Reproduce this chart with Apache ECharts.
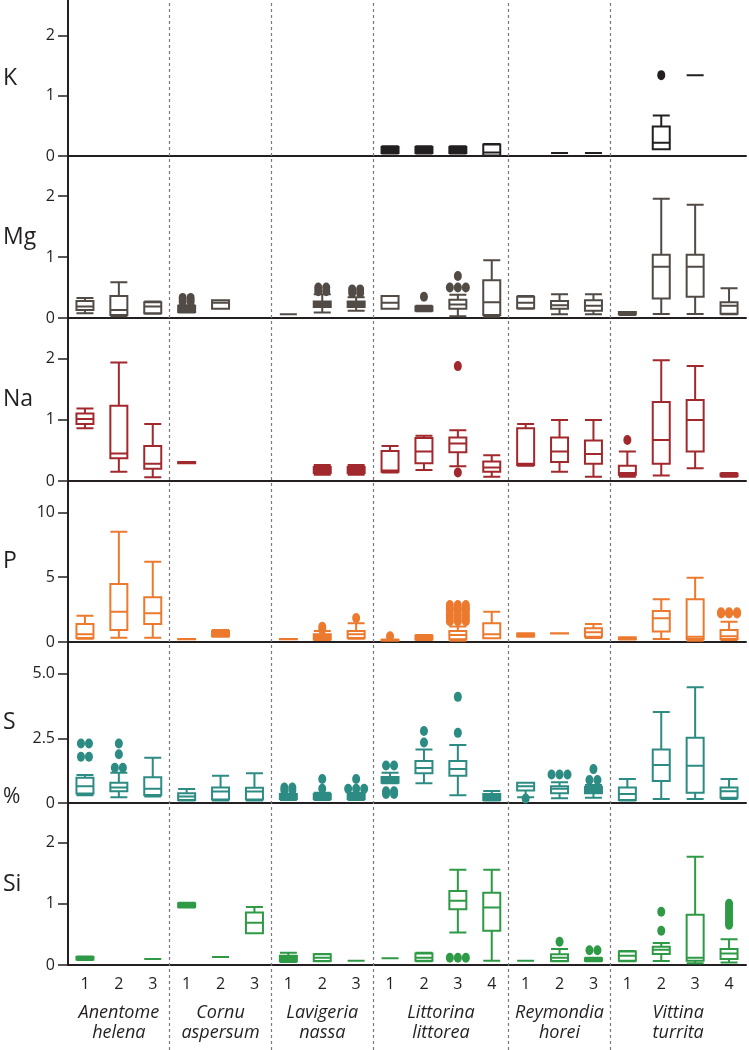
<!DOCTYPE html>
<html><head><meta charset="utf-8">
<script src="https://cdn.jsdelivr.net/npm/echarts@6/dist/echarts.min.js"></script>
<style>html,body{margin:0;padding:0;background:#fff}#c{width:749px;height:1050px}</style>
</head><body><div id="c"></div>
<script>
// ---------------- data ----------------
const species = ['Anentome helena','Cornu aspersum','Lavigeria nassa','Littorina littorea','Reymondia horei','Vittina turrita'];
const groupSizes = [3,3,3,4,3,4];
const elements = ['K','Mg','Na','P','S','Si'];
const yTicks = {K:[0,1,2], Mg:[0,1,2], Na:[0,1,2], P:[0,5,10], S:[0,2.5,5], Si:[0,1,2]};

// boxes: [min, Q1, median, Q3, max] per sample (20 samples), null = no data
const K = [null,null,null, null,null,null, null,null,null,
  [0.04,0.05,0.1,0.15,0.16],[0.04,0.05,0.09,0.15,0.16],[0.04,0.05,0.1,0.15,0.16],[0,0.01,0.06,0.19,0.2],
  null,[0.05,0.05,0.05,0.05,0.05],[0.05,0.05,0.05,0.05,0.05],
  null,[0.11,0.11,0.22,0.49,0.67],[1.34,1.34,1.34,1.34,1.34],null];
const K_out = [[],[],[],[],[],[],[],[],[],[],[],[],[],[],[],[],[],[1.34],[],[]];

const Mg = [[0.08,0.13,0.19,0.28,0.33],[0.03,0.05,0.13,0.36,0.585],[0.07,0.08,0.19,0.26,0.27],
  [0.09,0.1,0.15,0.2,0.21],[0.15,0.15,0.25,0.29,0.29],null,
  [0.06,0.06,0.06,0.06,0.06],[0.09,0.18,0.22,0.27,0.39],[0.12,0.18,0.22,0.27,0.34],
  [0.15,0.15,0.25,0.36,0.36],[0.11,0.12,0.15,0.19,0.2],[0.03,0.15,0.22,0.3,0.38],[0.02,0.05,0.26,0.62,0.95],
  [0.15,0.16,0.25,0.35,0.36],[0.06,0.15,0.21,0.28,0.39],[0.06,0.12,0.2,0.29,0.39],
  [0.05,0.06,0.08,0.1,0.1],[0.065,0.32,0.84,1.04,1.96],[0.065,0.35,0.84,1.04,1.86],[0.06,0.07,0.2,0.26,0.49]];
const Mg_out = [[],[],[],[0.33,0.33,0.27,0.27],[],[],[],[0.5,0.5,0.44,0.44],[0.47,0.47,0.41,0.41],
  [],[0.35],[0.69,0.5,0.5,0.5],[],[],[],[],[],[],[],[]];

const Na = [[0.86,0.93,1.01,1.1,1.185],[0.15,0.37,0.45,1.23,1.935],[0.06,0.2,0.28,0.57,0.93],
  [0.29,0.29,0.3,0.31,0.31],null,null,
  null,[0.1,0.13,0.18,0.23,0.26],[0.1,0.13,0.18,0.23,0.26],
  [0.14,0.15,0.17,0.49,0.57],[0.18,0.29,0.48,0.7,0.74],[0.24,0.47,0.61,0.71,0.83],[0.07,0.15,0.22,0.32,0.42],
  [0.25,0.26,0.28,0.86,0.93],[0.15,0.31,0.48,0.71,0.995],[0.07,0.28,0.44,0.66,0.995],
  [0.07,0.1,0.13,0.25,0.48],[0.09,0.28,0.67,1.29,1.97],[0.21,0.48,0.995,1.32,1.875],[0.07,0.08,0.1,0.12,0.13]];
const Na_out = [[],[],[],[],[],[],[],[],[],[],[],[1.875,0.14],[],[],[],[],[0.67],[],[],[]];

const P = [[0.25,0.3,0.6,1.39,2.03],[0.33,0.93,2.34,4.47,8.5],[0.33,1.39,2.21,3.45,6.19],
  [0.22,0.22,0.23,0.24,0.24],[0.41,0.45,0.6,0.85,0.93],null,
  [0.22,0.22,0.23,0.24,0.24],[0.15,0.2,0.4,0.6,0.85],[0.25,0.3,0.6,0.85,1.44],
  [0.1,0.12,0.15,0.18,0.2],[0.15,0.2,0.3,0.5,0.54],[0.1,0.21,0.54,0.85,1.2],[0.28,0.28,0.59,1.44,2.34],
  [0.4,0.42,0.55,0.65,0.67],[0.66,0.66,0.67,0.68,0.68],[0.3,0.41,0.75,1.06,1.39],
  [0.2,0.21,0.28,0.35,0.36],[0.23,0.8,1.83,2.39,3.29],[0.1,0.23,0.41,3.29,4.96],[0.15,0.23,0.45,0.93,1.57]];
const P_out = [[],[],[],[],[],[],[],[1.18,0.95],[1.85],[0.45],[],
  [2.85,2.85,2.85,2.6,2.6,2.6,2.4,2.4,2.4,2.1,2.1,2.1,1.85,1.85,1.85,1.6,1.6,1.6],
  [],[],[],[],[],[],[],[2.3,2.3,2.3,2.2,2.2,2.2]];

const S = [[0.3,0.37,0.65,0.98,1.08],[0.22,0.45,0.6,0.78,1.17],[0.25,0.31,0.55,0.99,1.75],
  [0.1,0.12,0.25,0.38,0.54],[0.1,0.14,0.44,0.6,1.05],[0.1,0.14,0.44,0.59,1.15],
  [0.12,0.15,0.25,0.35,0.35],[0.12,0.15,0.25,0.35,0.4],[0.12,0.15,0.25,0.35,0.4],
  [0.76,0.78,0.9,1.0,1.17],[0.76,1.15,1.35,1.62,2.07],[0.3,1.05,1.31,1.62,2.24],[0.1,0.12,0.25,0.35,0.46],
  [0.22,0.48,0.65,0.78,0.78],[0.18,0.38,0.55,0.65,0.8],[0.2,0.38,0.5,0.62,0.7],
  [0.1,0.12,0.35,0.6,0.93],[0.15,0.85,1.47,2.07,3.52],[0.15,0.4,1.44,2.52,4.47],[0.15,0.2,0.45,0.6,0.93]];
const S_out = [[2.3,2.3,1.79,1.79],[2.3,1.88,1.36,1.36],[],[],[],[],
  [0.6,0.6,0.48,0.48],[0.93,0.55],[0.93,0.55,0.55,0.55],
  [1.45,1.45,0.45,0.45,0.35,0.35],[2.78,2.34],[4.1,2.71],[],
  [0.17],[1.1,1.1,1.1],[1.31,0.89,0.89],[],[],[],[]];

const Si = [[0.08,0.09,0.11,0.13,0.14],null,[0.1,0.1,0.1,0.1,0.1],
  [0.94,0.95,0.98,1.01,1.02],[0.13,0.13,0.13,0.13,0.13],[0.52,0.52,0.69,0.86,0.95],
  [0.05,0.06,0.1,0.15,0.2],[0.06,0.065,0.12,0.175,0.18],[0.07,0.07,0.07,0.07,0.07],
  [0.11,0.11,0.11,0.11,0.11],[0.06,0.07,0.12,0.19,0.2],[0.53,0.91,1.05,1.21,1.56],[0.07,0.56,0.94,1.18,1.56],
  [0.07,0.07,0.07,0.07,0.07],[0.06,0.065,0.12,0.175,0.26],[0.06,0.07,0.09,0.11,0.12],
  [0.06,0.07,0.15,0.22,0.23],[0.065,0.18,0.25,0.3,0.36],[0.03,0.07,0.12,0.82,1.77],[0.04,0.1,0.19,0.26,0.42]];
const Si_out = [[],[],[],[],[],[],[],[],[],[],[],[0.12,0.12,0.12],[],[],[0.38],[0.24,0.24],[],
  [0.87,0.56],[],[1.0,0.95,0.9,0.85,0.8,0.75,0.7,0.66]];

// ---------------- layout / style ----------------
const boxes = {K, Mg, Na, P, S, Si};
const outs = {K:K_out, Mg:Mg_out, Na:Na_out, P:P_out, S:S_out, Si:Si_out};
const colors = {K:'#231f20', Mg:'#514a45', Na:'#a1282d', P:'#ec7a2e', S:'#2c8b82', Si:'#2f9a46'};
const tops = [0,156,318,481,642,803];
const heights = [156,162,163,161,161,162];
const ymax = [2.585,2.66,2.66,12.41,6.22,2.65];
const FONT = 'Open Sans';
const INK = '#231f20';
const FILL_BELOW_PX = 6.5;   // very short boxes read as solid in the original

const categories = [];
species.forEach((s,gi)=>{ for(let k=1;k<=groupSizes[gi];k++) categories.push(s+'|'+k); });
const bounds = []; let acc = 0;
groupSizes.forEach(n=>{ acc += n; bounds.push(acc); });
const separators = bounds.slice(0,-1);
const centers = groupSizes.map((n,i)=> bounds[i]-n/2);

const grid=[], xAxis=[], yAxis=[], series=[];
elements.forEach((el,i)=>{
  grid.push({left:68, right:3, top:tops[i], height:heights[i]});
  xAxis.push({gridIndex:i, type:'category', data:categories, boundaryGap:true,
    axisLine:{show:true, onZero:false, lineStyle:{color:INK, width:2}},
    axisTick:{show:false}, splitLine:{show:false},
    axisLabel:{show:i===5, interval:0, margin:11, fontSize:16, color:INK, fontFamily:FONT,
      formatter:v=>v.split('|')[1]}});
  yAxis.push({gridIndex:i, type:'value', min:0, max:ymax[i],
    axisLine:{show:true, onZero:false, lineStyle:{color:INK, width:2}},
    axisTick:{show:true, length:10, customValues:yTicks[el], lineStyle:{color:INK, width:1.5}},
    axisLabel:{customValues:yTicks[el], margin:13, fontSize:16, color:INK, fontFamily:FONT,
      formatter:v=> (el==='S' && v!==0) ? v.toFixed(1) : String(v)},
    splitLine:{show:false},
    name:el, nameLocation:'middle', nameRotate:0, nameGap:65,
    nameTextStyle:{fontSize:23, color:INK, fontFamily:FONT, align:'left', verticalAlign:'middle',
      padding: el==='Si' ? [0,0,28,0] : 0}});
  const pxPerUnit = heights[i]/ymax[i];
  const bdata = [];
  boxes[el].forEach((b,ci)=>{
    if(!b) return;
    const solid = (b[3]-b[1])*pxPerUnit < FILL_BELOW_PX;
    bdata.push({value:[ci].concat(b), itemStyle:{color: solid ? colors[el] : '#fff'}});
  });
  series.push({type:'boxplot', xAxisIndex:i, yAxisIndex:i, data:bdata,
    encode:{x:0, y:[1,2,3,4,5]}, boxWidth:[17,17], z:3,
    itemStyle:{color:'#fff', borderColor:colors[el], borderWidth:2}, silent:true});
  const sdata = [];
  outs[el].forEach((list,ci)=>{
    const counts = {}; list.forEach(v=>{counts[v]=(counts[v]||0)+1;});
    const seen = {};
    list.forEach(v=>{
      const n = counts[v]; const k = seen[v]||0; seen[v]=k+1;
      sdata.push({value:[ci,v], symbolOffset:[(k-(n-1)/2)*8,0]});
    });
  });
  series.push({type:'scatter', xAxisIndex:i, yAxisIndex:i, data:sdata, symbol:'circle',
    symbolSize:[8,10], z:4, itemStyle:{color:colors[el], opacity:1}, silent:true});
});
// species label axis under Si panel
xAxis.push({gridIndex:5, type:'value', min:0, max:groupSizes.reduce((a,b)=>a+b,0), position:'bottom',
  axisLine:{show:false}, axisTick:{show:false}, splitLine:{show:false},
  axisLabel:{customValues:centers, margin:38, fontSize:18, lineHeight:20, fontStyle:'italic',
    color:INK, fontFamily:FONT, formatter:v=>{const i=centers.indexOf(v); return i<0?'':species[i].replace(' ','\n');}}});
// full-height grid for dashed group separators
grid.push({left:68, right:3, top:0, bottom:0});
xAxis.push({gridIndex:6, type:'value', min:0, max:groupSizes.reduce((a,b)=>a+b,0), show:false});
yAxis.push({gridIndex:6, type:'value', min:0, max:1, show:false});
series.push({type:'line', xAxisIndex:xAxis.length-1, yAxisIndex:yAxis.length-1, data:[[0,0]],
  showSymbol:false, lineStyle:{opacity:0}, z:1, silent:true,
  markLine:{silent:true, symbol:'none', label:{show:false}, animation:false,
    lineStyle:{type:[3,3], color:'#7a7a7a', width:1.2},
    data:separators.map(v=>({xAxis:v}))}});

const chart = echarts.init(document.getElementById('c'), null, {renderer:'canvas'});
chart.setOption({
  animation:false, backgroundColor:'#fff',
  grid, xAxis, yAxis, series,
  graphic:[{type:'text', left:3, top:787, style:{text:'%', fontSize:21, fill:INK, fontFamily:FONT}}]
});
</script></body></html>
